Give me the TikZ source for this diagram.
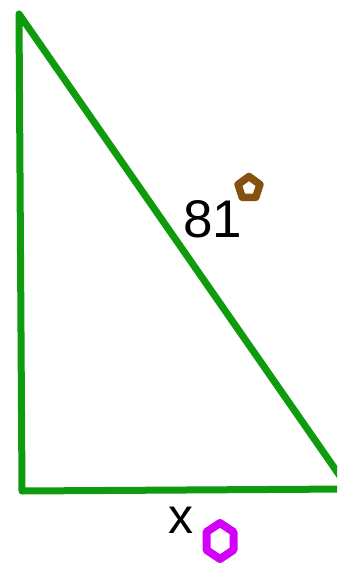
\documentclass[tikz,border=0pt]{standalone}
\usepackage{fontspec}
\setmainfont{Liberation Sans}
\usepackage{xcolor}
\usepackage{tikz}
\usetikzlibrary{shapes.geometric}

\definecolor{trigreen}{RGB}{14,155,14}
\definecolor{pentbrown}{RGB}{134,80,14}
\definecolor{hexmag}{RGB}{210,0,250}

\begin{document}
\begin{tikzpicture}[
  x=1pt,y=-1pt,
  t/.style={draw=trigreen,line width=7pt,line join=round,line cap=round},
  l/.style={inner sep=0pt,font=\fontsize{53}{53}\selectfont},
  pm/.style={draw=pentbrown,regular polygon,regular polygon sides=5,minimum size=23pt,line width=7.5pt,line join=round,inner sep=0pt},
  hm/.style={draw=hexmag,line width=8pt,line join=round}
]
\useasboundingbox (0,0) rectangle (337,564);
\clip (0,0) rectangle (337,564);
% triangle
\coordinate (a) at (19,14);
\coordinate (b) at (22,491);
\coordinate (c) at (349,489);
\draw[t] (a) -- (b) -- (c) -- cycle;
% labels
\node[l] (h) at (213,219) {81};
\node[l,font=\fontsize{50}{50}\selectfont] (x) at (181,520) {x};
% markers
\node[pm] (p) at (249,188) {};
\coordinate (hx) at (220,541);
\draw[hm,shift={(hx)}] (0,-18) -- (13.5,-9) -- (13.5,9) -- (0,18) -- (-13.5,9) -- (-13.5,-9) -- cycle;
\end{tikzpicture}
\end{document}
